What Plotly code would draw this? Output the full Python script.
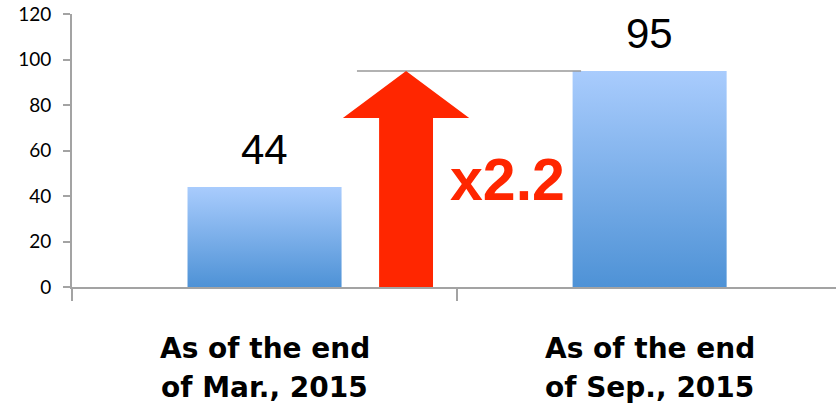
import plotly.graph_objects as go

categories = ["As of the end\nof Mar., 2015", "As of the end\nof Sep., 2015"]
values = [44, 95]
y_ticks = [0, 20, 40, 60, 80, 100, 120]

BAR_HALF = 0.2
TOP_COLOR = "#a9ccfd"
BOTTOM_COLOR = "#4e92d6"
RED = "#ff2600"
AXIS_COLOR = "#a3a3a3"

fig = go.Figure()

# Gradient bars drawn as filled polygons on the data axes
for i, v in enumerate(values):
    fig.add_trace(go.Scatter(
        x=[i - BAR_HALF, i + BAR_HALF, i + BAR_HALF, i - BAR_HALF, i - BAR_HALF],
        y=[0, 0, v, v, 0],
        mode="lines", line=dict(width=0, color=BOTTOM_COLOR),
        fill="toself",
        fillgradient=dict(type="vertical", start=0, stop=v,
                          colorscale=[[0, BOTTOM_COLOR], [1, TOP_COLOR]]),
        hoverinfo="skip", showlegend=False,
    ))

# Value labels
for i, v in enumerate(values):
    fig.add_annotation(x=i, y=v, text=str(v), showarrow=False,
                       yanchor="bottom", yshift=12,
                       font=dict(family="Liberation Sans", size=42, color="#000000"))

# Growth arrow between the bars
xc = 0.3675
shaft = 0.07
head = 0.164
head_base = values[1] * 0.782
tip = values[1]
path = (f"M {xc-shaft},0 L {xc-shaft},{head_base} L {xc-head},{head_base} "
        f"L {xc},{tip} L {xc+head},{head_base} L {xc+shaft},{head_base} "
        f"L {xc+shaft},0 Z")
fig.add_shape(type="line", x0=0.24, x1=0.822, y0=tip, y1=tip,
              line=dict(color="#999999", width=1.5), layer="above")
fig.add_shape(type="path", path=path, fillcolor=RED, line=dict(width=0), layer="above")

ratio = values[1] / values[0]
fig.add_annotation(x=0.63, y=47, text=f"<b>x{ratio:.1f}</b>", showarrow=False,
                   font=dict(family="Liberation Sans", size=59, color=RED))

# Category labels (two lines each)
for i, c in enumerate(categories):
    lines = c.split("\n")
    for j, ln in enumerate(lines):
        fig.add_annotation(x=i, xref="x", y=-0.227 - j * 0.14, yref="paper",
                           text=f"<b>{ln}</b>", showarrow=False, yanchor="middle",
                           borderpad=0,
                           font=dict(family="DejaVu Sans", size=28, color="#000000"))

fig.update_layout(
    width=836, height=413,
    margin=dict(l=72, r=0, t=14, b=126),
    plot_bgcolor="white", paper_bgcolor="white",
    xaxis=dict(range=[-0.5, 1.484], tickmode="array", tickvals=[-0.5, 0.5, 1.5],
               showticklabels=False, ticks="outside", ticklen=12, tickwidth=2,
               tickcolor=AXIS_COLOR, showline=True, linecolor=AXIS_COLOR,
               linewidth=2, showgrid=False, zeroline=False, fixedrange=True),
    yaxis=dict(range=[0, 120], tickmode="array", tickvals=y_ticks,
               ticks="outside", ticklen=7, tickwidth=2, tickcolor=AXIS_COLOR,
               showline=True, linecolor=AXIS_COLOR, linewidth=2,
               showgrid=False, zeroline=False, ticklabelstandoff=8,
               tickfont=dict(family="Lato", size=19, color="#000000"),
               fixedrange=True),
)

fig.write_html("out.html", config={"displayModeBar": False},
               post_script="document.body.style.margin='0';")
